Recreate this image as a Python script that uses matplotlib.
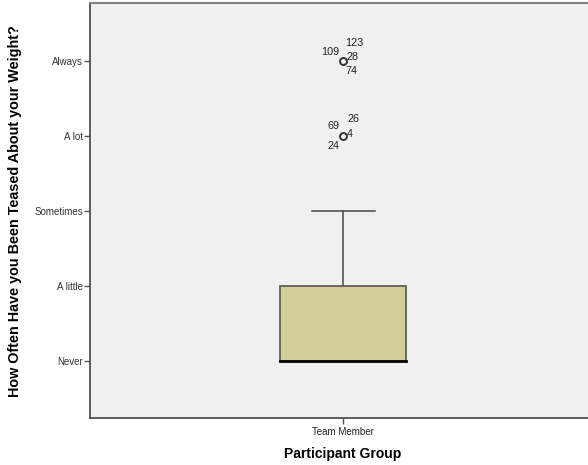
import matplotlib
matplotlib.use("Agg")
import matplotlib.pyplot as plt
from matplotlib.patches import Rectangle

plt.rcParams['font.family'] = ['Liberation Sans', 'DejaVu Sans']

# Data
group_labels = ["Team Member"]
y_tick_labels = ["Never", "A little", "Sometimes", "A lot", "Always"]
y_tick_values = [1, 2, 3, 4, 5]
q1 = [1]
median = [1]
q3 = [2]
whisker_low = [1]
whisker_high = [3]
outlier_values = [5, 4]
outlier_ids = [["109", "123", "28", "74"], ["69", "26", "4", "24"]]
# label offsets in pixels (dx, dy) for each id
outlier_offsets = [[(-13, 9), (11, 18), (10, 4), (9, -10)],
                   [(-10, 10), (10, 17), (7, 2), (-10, -10)]]

fig = plt.figure(figsize=(5.88, 4.65), dpi=100)
W, H = 588, 465
left, right, top, bottom = 90, 596, 3, 418
ax = fig.add_axes([left / W, 1 - bottom / H, (right - left) / W, (bottom - top) / H])
ax.set_facecolor('#F0F0F0')

ax.set_xlim(-1, 1)
ax.set_ylim(0.24, 5.77)

box_w = 126 / 506 * 2
x0 = 0
for i, g in enumerate(group_labels):
    ax.add_patch(Rectangle((x0 - box_w / 2, q1[i]), box_w, q3[i] - q1[i],
                           facecolor='#D3CE97', edgecolor='#555555', linewidth=1.2, zorder=3))
    ax.plot([x0 - box_w / 2, x0 + box_w / 2], [median[i], median[i]], color='black', linewidth=2, zorder=4)
    ax.plot([x0, x0], [q3[i], whisker_high[i]], color='#555555', linewidth=1.2, zorder=2)
    ax.plot([x0 - box_w / 4, x0 + box_w / 4], [whisker_high[i], whisker_high[i]], color='#555555', linewidth=1.2, zorder=2)

for v, ids, offs in zip(outlier_values, outlier_ids, outlier_offsets):
    ax.plot([x0], [v], marker='o', markersize=5, markerfacecolor='none',
            markeredgecolor='#333333', markeredgewidth=1.4, zorder=5)
    for lab, (dx, dy) in zip(ids, offs):
        ax.annotate(lab, (x0, v), xytext=(dx, dy), textcoords='offset pixels',
                    ha='center', va='center', fontsize=7.8, color='#222222')

ax.set_yticks(y_tick_values)
ax.set_yticklabels(y_tick_labels, fontsize=7, color='#333333')
ax.set_xticks([x0])
ax.set_xticklabels(group_labels, fontsize=7, color='#222222')
ax.tick_params(axis='both', direction='out', length=4, width=1, color='#555555', pad=1)
ax.tick_params(axis='x', pad=2.5)

for s in ['left', 'bottom']:
    ax.spines[s].set_color('#444444')
    ax.spines[s].set_linewidth(1.2)
ax.spines['top'].set_color('#808080')
ax.spines['top'].set_linewidth(1.5)
ax.spines['right'].set_visible(False)

ax.set_xlabel("Participant Group", fontsize=10, fontweight='bold')
ax.set_ylabel("How Often Have you Been Teased About your Weight?", fontsize=10.4, fontweight='bold')
ax.xaxis.set_label_coords((343 - left) / (right - left), -(447 - bottom) / (bottom - top))
ax.yaxis.set_label_coords(-(90 - 22) / (right - left), (bottom - 211) / (bottom - top))

fig.savefig("out.png", dpi=100)
